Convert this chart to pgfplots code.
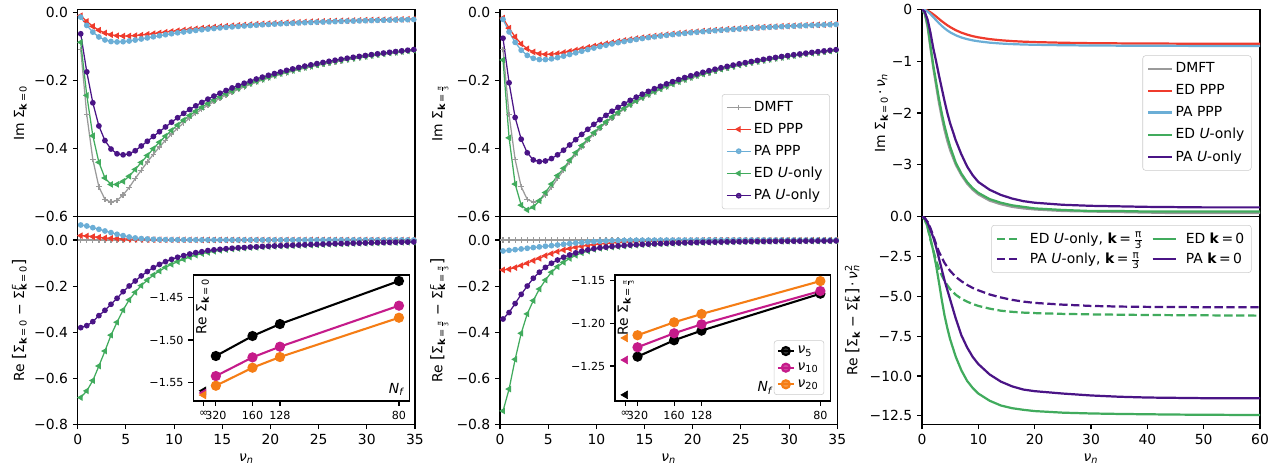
\documentclass[border=0pt]{standalone}
\usepackage{fontspec}
\setmainfont{DejaVu Sans}
\usepackage{pgfplots}
\usepackage{pgfplotstable}
\pgfplotsset{compat=1.18}

\definecolor{cgray}{HTML}{9A9A9A}
\definecolor{cred}{HTML}{EF3B2C}
\definecolor{cblue}{HTML}{6BAED6}
\definecolor{cgreen}{HTML}{41AB5D}
\definecolor{cpurple}{HTML}{4A1486}
\definecolor{cmag}{HTML}{C51B8A}
\definecolor{corange}{HTML}{F57D15}

\newcommand{\kk}{\textbf{k}}
\newcommand{\sbs}[1]{\textsubscript{#1}}
\newcommand{\spsb}[2]{\makebox[0pt][l]{\textsuperscript{#1}}\textsubscript{#2}}
\newcommand{\nun}{\textit{ν}\textsubscript{\textit{n}}}
\newcommand{\fs}[1]{\fontsize{#1}{#1}\selectfont}
\newcommand{\pifr}[1]{$\frac{\hbox{\fs{#1}π}}{\hbox{\fs{#1}3}}$}
\newcommand{\lb}{{\fs{11.5}[}}
\newcommand{\rb}{{\fs{11.5}]}}

\pgfplotsset{
  base/.style={scale only axis, anchor=north west,
    axis line style={line width=0.8pt, black},
    tick align=outside, tick pos=left, major tick length=3.5pt,
    tick style={line width=0.8pt, black},
    tick label style={font=\fs{10}},
    label style={font=\fs{10}},
  },
  ylab/.style={ylabel style={at={(axis description cs:#1,0.5)}, anchor=south, inner sep=0pt}},
  dmft/.style={cgray, line width=0.9pt, mark=+, mark size=2pt, mark options={line width=0.9pt}},
  edppp/.style={cred, line width=0.9pt, mark=triangle*, mark size=1.9pt, mark options={rotate=90}},
  pappp/.style={cblue, line width=0.9pt, mark=*, mark size=1.6pt},
  edu/.style={cgreen, line width=0.9pt, mark=triangle*, mark size=1.9pt, mark options={rotate=90}},
  pau/.style={cpurple, line width=0.9pt, mark=*, mark size=1.6pt},
  mylegend/.style={legend style={draw=black!20, rounded corners=2pt, fill=white, fill opacity=0.8, text opacity=1, font=\fs{10}, row sep=3pt, inner xsep=3pt, inner ysep=3pt}, legend cell align=left},
  inset/.style={base, width=155.5pt, height=90.72pt, xmin=-0.053, xmax=1.053,
    xtick={0,0.0625,0.25,0.390625,1}, xticklabels={∞,320,160,128,80},
    tick label style={font=\fs{8}}, axis background/.style={fill=white}, clip=false},
  iline/.style={line width=1.5pt, mark=*, mark size=2.9pt},
  itri/.style={mark=triangle*, mark size=3.2pt, mark options={rotate=90}, only marks, forget plot},
}

\pgfplotstableread{
nu dm ed pa eu pu
0.314 -0.108 -0.0088 -0.0130 -0.087 -0.062
0.942 -0.300 -0.0256 -0.0373 -0.243 -0.174
1.571 -0.432 -0.0401 -0.0571 -0.362 -0.265
2.199 -0.512 -0.0514 -0.0713 -0.440 -0.333
2.827 -0.549 -0.0596 -0.0801 -0.486 -0.376
3.456 -0.557 -0.0648 -0.0846 -0.505 -0.401
4.084 -0.552 -0.0676 -0.0859 -0.505 -0.415
4.712 -0.536 -0.0686 -0.0852 -0.496 -0.418
5.341 -0.514 -0.0684 -0.0832 -0.481 -0.415
5.969 -0.4878 -0.0673 -0.0804 -0.461 -0.406
6.597 -0.4632 -0.0657 -0.0773 -0.4404 -0.392
7.226 -0.4391 -0.0637 -0.0741 -0.4199 -0.378
7.854 -0.4163 -0.0616 -0.0708 -0.3999 -0.364
8.482 -0.3949 -0.0594 -0.0677 -0.3809 -0.350
9.111 -0.3751 -0.0572 -0.0646 -0.3629 -0.336
9.739 -0.3567 -0.0550 -0.0618 -0.3461 -0.322
10.367 -0.3395 -0.0529 -0.0591 -0.3303 -0.309
10.996 -0.3240 -0.0509 -0.0566 -0.3158 -0.296
11.624 -0.3095 -0.0490 -0.0542 -0.3022 -0.2847
12.252 -0.2962 -0.0472 -0.0520 -0.2896 -0.2739
12.881 -0.2838 -0.0455 -0.0500 -0.2779 -0.2638
13.509 -0.2723 -0.0439 -0.0481 -0.2669 -0.2542
14.137 -0.2616 -0.0423 -0.0463 -0.2567 -0.2452
14.765 -0.2518 -0.0409 -0.0446 -0.2472 -0.2368
15.394 -0.2425 -0.0395 -0.0430 -0.2383 -0.2288
16.022 -0.2339 -0.0383 -0.0416 -0.2301 -0.2212
16.650 -0.2259 -0.0371 -0.0402 -0.2223 -0.2142
17.279 -0.2183 -0.0359 -0.0389 -0.2150 -0.2074
17.907 -0.2112 -0.0348 -0.0376 -0.2081 -0.2011
18.535 -0.2046 -0.0338 -0.0365 -0.2016 -0.1951
19.164 -0.1983 -0.0328 -0.0354 -0.1956 -0.1895
19.792 -0.1924 -0.0319 -0.0344 -0.1898 -0.1841
20.420 -0.1869 -0.0310 -0.0334 -0.1844 -0.1790
21.049 -0.1816 -0.0302 -0.0325 -0.1792 -0.1742
21.677 -0.1766 -0.0294 -0.0316 -0.1744 -0.1696
22.305 -0.1719 -0.0287 -0.0308 -0.1698 -0.1653
22.934 -0.1674 -0.0280 -0.0300 -0.1654 -0.1611
23.562 -0.1631 -0.0273 -0.0292 -0.1612 -0.1571
24.190 -0.1591 -0.0266 -0.0285 -0.1572 -0.1534
24.819 -0.1552 -0.0260 -0.0278 -0.1534 -0.1497
25.447 -0.1515 -0.0254 -0.0272 -0.1498 -0.1463
26.075 -0.1480 -0.0248 -0.0266 -0.1464 -0.1430
26.704 -0.1446 -0.0243 -0.0260 -0.1431 -0.1398
27.332 -0.1414 -0.0238 -0.0254 -0.1399 -0.1368
27.960 -0.1383 -0.0233 -0.0248 -0.1369 -0.1339
28.588 -0.1354 -0.0228 -0.0243 -0.1340 -0.1311
29.217 -0.1326 -0.0223 -0.0238 -0.1312 -0.1285
29.845 -0.1299 -0.0219 -0.0233 -0.1285 -0.1259
30.473 -0.1273 -0.0214 -0.0229 -0.1260 -0.1234
31.102 -0.1248 -0.0210 -0.0224 -0.1235 -0.1210
31.730 -0.1223 -0.0206 -0.0220 -0.1211 -0.1187
32.358 -0.1200 -0.0202 -0.0216 -0.1188 -0.1165
32.987 -0.1178 -0.0199 -0.0212 -0.1166 -0.1144
33.615 -0.1156 -0.0195 -0.0208 -0.1145 -0.1123
34.243 -0.1136 -0.0192 -0.0204 -0.1125 -0.1104
34.872 -0.1115 -0.0188 -0.0201 -0.1105 -0.1084
}\tabTL

\pgfplotstableread{
nu ed pa eu pu
0.314 -0.0156 -0.0195 -0.139 -0.075
0.942 -0.0454 -0.0564 -0.368 -0.206
1.571 -0.0712 -0.0872 -0.504 -0.308
2.199 -0.0915 -0.1102 -0.566 -0.372
2.827 -0.1060 -0.1255 -0.580 -0.412
3.456 -0.1154 -0.1341 -0.572 -0.433
4.084 -0.1205 -0.1377 -0.553 -0.438
4.712 -0.1224 -0.1378 -0.529 -0.436
5.341 -0.1220 -0.1357 -0.504 -0.429
5.969 -0.1201 -0.1321 -0.479 -0.418
6.597 -0.1172 -0.1277 -0.4577 -0.4043
7.226 -0.1138 -0.1229 -0.4341 -0.3890
7.854 -0.1100 -0.1180 -0.4118 -0.3734
8.482 -0.1061 -0.1132 -0.3908 -0.3579
9.111 -0.1021 -0.1085 -0.3712 -0.3429
9.739 -0.0983 -0.1039 -0.3531 -0.3284
10.367 -0.0946 -0.0996 -0.3364 -0.3147
10.996 -0.0911 -0.0956 -0.3210 -0.3019
11.624 -0.0877 -0.0917 -0.3067 -0.2898
12.252 -0.0844 -0.0881 -0.2935 -0.2785
12.881 -0.0814 -0.0847 -0.2813 -0.2678
13.509 -0.0785 -0.0816 -0.2699 -0.2577
14.137 -0.0757 -0.0786 -0.2593 -0.2483
14.765 -0.0732 -0.0758 -0.2496 -0.2396
15.394 -0.0708 -0.0732 -0.2404 -0.2313
16.022 -0.0685 -0.0708 -0.2320 -0.2235
16.650 -0.0663 -0.0685 -0.2240 -0.2162
17.279 -0.0643 -0.0663 -0.2165 -0.2093
17.907 -0.0623 -0.0642 -0.2095 -0.2028
18.535 -0.0605 -0.0623 -0.2029 -0.1966
19.164 -0.0588 -0.0604 -0.1967 -0.1908
19.792 -0.0571 -0.0587 -0.1909 -0.1854
20.420 -0.0556 -0.0571 -0.1853 -0.1802
21.049 -0.0541 -0.0555 -0.1801 -0.1753
21.677 -0.0527 -0.0540 -0.1752 -0.1706
22.305 -0.0513 -0.0526 -0.1705 -0.1662
22.934 -0.0500 -0.0513 -0.1660 -0.1619
23.562 -0.0488 -0.0500 -0.1618 -0.1579
24.190 -0.0477 -0.0488 -0.1578 -0.1541
24.819 -0.0465 -0.0476 -0.1540 -0.1504
25.447 -0.0455 -0.0465 -0.1503 -0.1469
26.075 -0.0445 -0.0455 -0.1468 -0.1436
26.704 -0.0435 -0.0445 -0.1435 -0.1404
27.332 -0.0425 -0.0435 -0.1403 -0.1373
27.960 -0.0416 -0.0426 -0.1372 -0.1344
28.588 -0.0408 -0.0417 -0.1343 -0.1316
29.217 -0.0400 -0.0408 -0.1315 -0.1289
29.845 -0.0392 -0.0400 -0.1288 -0.1263
30.473 -0.0384 -0.0392 -0.1263 -0.1238
31.102 -0.0376 -0.0384 -0.1238 -0.1214
31.730 -0.0369 -0.0377 -0.1214 -0.1191
32.358 -0.0363 -0.0370 -0.1191 -0.1168
32.987 -0.0356 -0.0363 -0.1169 -0.1147
33.615 -0.0350 -0.0357 -0.1147 -0.1126
34.243 -0.0343 -0.0350 -0.1127 -0.1106
34.872 -0.0337 -0.0344 -0.1107 -0.1087
}\tabTM

\pgfplotstableread{
nu dm ed pa eu pu
0.314 0 0.0188 0.0650 -0.684 -0.3805
0.942 0 0.0174 0.0608 -0.655 -0.3718
1.571 0 0.0145 0.0535 -0.610 -0.3545
2.199 0 0.0116 0.0463 -0.547 -0.3284
2.827 0 0.0087 0.0390 -0.482 -0.3053
3.456 0 0.0072 0.0318 -0.413 -0.2792
4.084 0 0.0058 0.0246 -0.357 -0.2532
4.712 0 0.0043 0.0188 -0.304 -0.2243
5.341 0 0.0032 0.0130 -0.260 -0.1997
5.969 0 0.0025 0.0087 -0.227 -0.1780
6.597 0 0.0020 0.0058 -0.198 -0.1560
7.226 0 0.0016 0.0043 -0.174 -0.1370
7.854 0 0.0013 0.0029 -0.152 -0.1200
8.482 0 0.0011 0.0020 -0.135 -0.1060
9.111 0 0.0009 0.0014 -0.119 -0.0940
9.739 0 0.0008 0.0010 -0.106 -0.0840
10.367 0 0.0007 0.0008 -0.094 -0.0750
10.996 0 0.0006 0.0006 -0.084 -0.0680
11.624 0 0.0005 0.0005 -0.074 -0.0610
12.252 0 0.0004 0.0004 -0.066 -0.0550
12.881 0 0.0004 0.0003 -0.059 -0.0510
13.509 0 0.0003 0.0003 -0.054 -0.0460
14.137 0 0.0003 0.0002 -0.049 -0.0430
14.765 0 0.0002 0.0002 -0.045 -0.0405
15.394 0 0.0002 0.0002 -0.042 -0.0380
16.022 0 0.0002 0.0001 -0.039 -0.0360
16.650 0 0.0001 0.0001 -0.037 -0.0340
17.279 0 0.0001 0.0001 -0.035 -0.0330
17.907 0 0.0001 0.0001 -0.033 -0.0310
18.535 0 0.0001 0.0001 -0.032 -0.0300
19.164 0 0.0001 0.0001 -0.030 -0.0280
19.792 0 0.0001 0.0001 -0.029 -0.0270
20.420 0 0.0001 0.0001 -0.028 -0.0260
21.049 0 0.0001 0.0001 -0.027 -0.0250
21.677 0 0.0001 0.0001 -0.026 -0.0240
22.305 0 0.0001 0.0001 -0.025 -0.0230
22.934 0 0.0001 0.0001 -0.024 -0.0220
23.562 0 0.0001 0.0001 -0.023 -0.0210
24.190 0 0.0001 0.0001 -0.022 -0.0200
24.819 0 0.0001 0.0001 -0.021 -0.0190
25.447 0 0.0001 0.0001 -0.020 -0.0180
26.075 0 0.0001 0.0001 -0.019 -0.0170
26.704 0 0.0001 0.0001 -0.018 -0.0160
27.332 0 0.0001 0.0001 -0.017 -0.0155
27.960 0 0.0001 0.0001 -0.016 -0.0150
28.588 0 0.0001 0.0001 -0.0155 -0.0140
29.217 0 0.0001 0.0001 -0.015 -0.0135
29.845 0 0.0001 0.0001 -0.014 -0.0130
30.473 0 0.0001 0.0001 -0.0135 -0.0120
31.102 0 0.0001 0.0001 -0.013 -0.0115
31.730 0 0.0001 0.0001 -0.012 -0.0110
32.358 0 0.0001 0.0001 -0.0115 -0.0105
32.987 0 0.0001 0.0001 -0.011 -0.0100
33.615 0 0.0001 0.0001 -0.0105 -0.0095
34.243 0 0.0001 0.0001 -0.010 -0.0090
34.872 0 0.0001 0.0001 -0.0095 -0.0085
}\tabBL

\pgfplotstableread{
nu dm ed pa eu pu
0.314 0 -0.130 -0.0477 -0.742 -0.343
0.942 0 -0.127 -0.0449 -0.647 -0.315
1.571 0 -0.120 -0.0420 -0.518 -0.276
2.199 0 -0.111 -0.0390 -0.405 -0.236
2.827 0 -0.101 -0.0360 -0.321 -0.200
3.456 0 -0.0897 -0.0330 -0.263 -0.166
4.084 0 -0.0796 -0.0300 -0.213 -0.140
4.712 0 -0.0680 -0.0270 -0.174 -0.119
5.341 0 -0.0593 -0.0246 -0.140 -0.101
5.969 0 -0.0506 -0.0217 -0.116 -0.087
6.597 0 -0.0434 -0.0188 -0.097 -0.075
7.226 0 -0.0376 -0.0160 -0.080 -0.065
7.854 0 -0.0318 -0.0130 -0.0666 -0.056
8.482 0 -0.0275 -0.0116 -0.056 -0.049
9.111 0 -0.0231 -0.0087 -0.048 -0.043
9.739 0 -0.0203 -0.0072 -0.0405 -0.038
10.367 0 -0.0175 -0.0058 -0.036 -0.034
10.996 0 -0.0150 -0.0043 -0.033 -0.031
11.624 0 -0.0130 -0.0032 -0.031 -0.028
12.252 0 -0.0110 -0.0025 -0.0286 -0.026
12.881 0 -0.0095 -0.0020 -0.0264 -0.024
13.509 0 -0.0082 -0.0016 -0.0242 -0.022
14.137 0 -0.0071 -0.0013 -0.0226 -0.0205
14.765 0 -0.0062 -0.0011 -0.0209 -0.0190
15.394 0 -0.0054 -0.0010 -0.0196 -0.0178
16.022 0 -0.0048 -0.0009 -0.0183 -0.0166
16.650 0 -0.0043 -0.0008 -0.0171 -0.0155
17.279 0 -0.0039 -0.0007 -0.0160 -0.0145
17.907 0 -0.0035 -0.0007 -0.0150 -0.0136
18.535 0 -0.0032 -0.0006 -0.0141 -0.0128
19.164 0 -0.0029 -0.0006 -0.0132 -0.0120
19.792 0 -0.0027 -0.0005 -0.0124 -0.0113
20.420 0 -0.0025 -0.0005 -0.0118 -0.0107
21.049 0 -0.0023 -0.0005 -0.0111 -0.0101
21.677 0 -0.0021 -0.0004 -0.0106 -0.0096
22.305 0 -0.0020 -0.0004 -0.0100 -0.0091
22.934 0 -0.0019 -0.0004 -0.0095 -0.0086
23.562 0 -0.0018 -0.0004 -0.0090 -0.0082
24.190 0 -0.0017 -0.0004 -0.0086 -0.0078
24.819 0 -0.0016 -0.0003 -0.0081 -0.0074
25.447 0 -0.0015 -0.0003 -0.0078 -0.0071
26.075 0 -0.0014 -0.0003 -0.0075 -0.0068
26.704 0 -0.0014 -0.0003 -0.0072 -0.0065
27.332 0 -0.0013 -0.0003 -0.0068 -0.0062
27.960 0 -0.0013 -0.0003 -0.0066 -0.0060
28.588 0 -0.0012 -0.0003 -0.0063 -0.0057
29.217 0 -0.0012 -0.0003 -0.0061 -0.0055
29.845 0 -0.0011 -0.0003 -0.0058 -0.0053
30.473 0 -0.0011 -0.0003 -0.0056 -0.0051
31.102 0 -0.0010 -0.0003 -0.0054 -0.0049
31.730 0 -0.0010 -0.0003 -0.0052 -0.0047
32.358 0 -0.0009 -0.0003 -0.0050 -0.0045
32.987 0 -0.0009 -0.0003 -0.0048 -0.0044
33.615 0 -0.0009 -0.0003 -0.0046 -0.0042
34.243 0 -0.0008 -0.0003 -0.0045 -0.0041
34.872 0 -0.0008 -0.0003 -0.0044 -0.0040
}\tabBM

\pgfplotstableread{
nu dm ed pa eu pu
0 0 0 0 0 0
0.5 -0.09 -0.007 -0.0116 -0.08 -0.05
1 -0.35 -0.027 -0.0444 -0.30 -0.20
1.5 -0.75 -0.058 -0.0926 -0.70 -0.45
2 -1.13 -0.096 -0.149 -1.08 -0.75
2.5 -1.47 -0.139 -0.209 -1.40 -1.00
3 -1.80 -0.184 -0.266 -1.72 -1.27
3.5 -2.08 -0.228 -0.319 -2.00 -1.52
4 -2.33 -0.269 -0.366 -2.25 -1.77
4.5 -2.54 -0.308 -0.408 -2.46 -2.00
5 -2.72 -0.343 -0.444 -2.65 -2.20
6 -3.00 -0.403 -0.501 -2.96 -2.53
7 -3.20 -0.451 -0.544 -3.17 -2.80
8 -3.36 -0.488 -0.575 -3.33 -3.03
9 -3.48 -0.518 -0.599 -3.45 -3.20
10 -3.57 -0.541 -0.617 -3.54 -3.33
12 -3.69 -0.575 -0.643 -3.66 -3.48
14 -3.76 -0.597 -0.660 -3.73 -3.58
16 -3.81 -0.613 -0.671 -3.78 -3.65
18 -3.84 -0.624 -0.679 -3.81 -3.70
20 -3.86 -0.632 -0.684 -3.84 -3.73
25 -3.89 -0.645 -0.693 -3.87 -3.77
30 -3.90 -0.653 -0.698 -3.89 -3.79
35 -3.91 -0.657 -0.701 -3.89 -3.80
40 -3.92 -0.660 -0.703 -3.90 -3.81
45 -3.93 -0.662 -0.705 -3.90 -3.815
50 -3.93 -0.664 -0.706 -3.90 -3.82
55 -3.93 -0.665 -0.707 -3.90 -3.82
60 -3.93 -0.666 -0.707 -3.90 -3.82
}\tabTR

\pgfplotstableread{
nu gd gs pd ps
0 0 0 0 0
0.5 -0.18 -0.17 -0.085 -0.095
1 -0.70 -0.66 -0.33 -0.38
1.5 -1.45 -1.38 -0.72 -0.83
2 -2.10 -2.15 -1.20 -1.30
2.5 -2.75 -3.05 -1.72 -1.90
3 -3.25 -4.10 -2.20 -2.60
3.5 -3.68 -5.20 -2.55 -3.30
4 -4.03 -6.20 -2.90 -4.00
4.5 -4.30 -7.00 -3.16 -4.60
5 -4.55 -7.70 -3.40 -5.20
6 -4.90 -8.80 -3.78 -6.40
7 -5.15 -9.65 -4.05 -7.45
8 -5.33 -10.30 -4.28 -8.20
9 -5.48 -10.75 -4.47 -8.80
10 -5.60 -11.10 -4.62 -9.25
12 -5.77 -11.55 -4.88 -9.90
14 -5.90 -11.85 -5.07 -10.35
16 -5.97 -12.02 -5.22 -10.65
18 -6.02 -12.12 -5.33 -10.85
20 -6.05 -12.20 -5.41 -10.95
25 -6.10 -12.30 -5.52 -11.10
30 -6.13 -12.35 -5.60 -11.22
35 -6.15 -12.38 -5.64 -11.30
40 -6.17 -12.40 -5.66 -11.35
45 -6.18 -12.42 -5.67 -11.37
50 -6.19 -12.43 -5.68 -11.39
55 -6.20 -12.44 -5.69 -11.40
60 -6.21 -12.45 -5.69 -11.40
}\tabBR

\pgfplotstableread{
x a b c
0.0625 -1.5187 -1.5422 -1.5535
0.25 -1.4953 -1.5203 -1.5324
0.390625 -1.4813 -1.5078 -1.5199
1 -1.4309 -1.4598 -1.4739
}\tabIA
\pgfplotstableread{
x a b c
0 -1.5594 -1.5620 -1.5644
}\tabIAi
\pgfplotstableread{
x a b c
0.0625 -1.2390 -1.2280 -1.2139
0.25 -1.2198 -1.2116 -1.1987
0.390625 -1.2085 -1.2011 -1.1890
1 -1.1652 -1.1621 -1.1504
}\tabIB
\pgfplotstableread{
x a b c
0 -1.2838 -1.2429 -1.2171
}\tabIBi

\begin{document}
\begin{tikzpicture}
\useasboundingbox (0,0) rectangle (920.88pt,-338.4pt);

% ---------- left top
\begin{axis}[base, ylab=-0.150, at={(55.94pt,-6.70pt)}, width=242.86pt, height=149.33pt,
  xmin=0, xmax=35, ymin=-0.6, ymax=0.010, xtick=\empty,
  ytick={-0.6,-0.4,-0.2,0}, yticklabels={−0.6,−0.4,−0.2,0.0},
  ylabel={Im Σ\sbs{\kk\,=\,0}}]
\addplot[dmft] table[x=nu,y=dm]{\tabTL};
\addplot[edppp] table[x=nu,y=ed]{\tabTL};
\addplot[pappp] table[x=nu,y=pa]{\tabTL};
\addplot[edu] table[x=nu,y=eu]{\tabTL};
\addplot[pau] table[x=nu,y=pu]{\tabTL};
\end{axis}

% ---------- left bottom
\begin{axis}[base, ylab=-0.150, at={(55.94pt,-156.02pt)}, width=242.86pt, height=149.47pt,
  xmin=0, xmax=35, ymin=-0.8, ymax=0.101,
  xtick={0,5,10,15,20,25,30,35}, xticklabels={0,5,10,15,20,25,30,35},
  ytick={-0.8,-0.6,-0.4,-0.2,0}, yticklabels={−0.8,−0.6,−0.4,−0.2,0.0},
  xlabel={\nun},
  ylabel={Re \lb Σ\sbs{\kk\,=\,0} − Σ\spsb{\textit{F}}{\kk\,=\,0}\rb}]
\addplot[dmft] table[x=nu,y=dm]{\tabBL};
\addplot[edppp] table[x=nu,y=ed]{\tabBL};
\addplot[pappp] table[x=nu,y=pa]{\tabBL};
\addplot[edu] table[x=nu,y=eu]{\tabBL};
\addplot[pau] table[x=nu,y=pu]{\tabBL};
\end{axis}

% ---------- inset 1
\begin{axis}[inset, at={(139.18pt,-198pt)}, width=155.52pt,
  ymin=-1.5714, ymax=-1.4239,
  ytick={-1.55,-1.5,-1.45}, yticklabels={−1.55,−1.50,−1.45}]
\addplot[iline, black] table[x=x,y=a]{\tabIA};
\addplot[iline, cmag] table[x=x,y=b]{\tabIA};
\addplot[iline, corange] table[x=x,y=c]{\tabIA};
\addplot[itri, black] table[x=x,y=a]{\tabIAi};
\addplot[itri, cmag] table[x=x,y=b]{\tabIAi};
\addplot[itri, corange] table[x=x,y=c]{\tabIAi};
\node[rotate=90, anchor=north east, font=\fs{10}, inner sep=0pt] at (rel axis cs:0.012,0.975) {Re Σ\sbs{\kk\,=\,0}};
\node[anchor=south east, font=\fs{10}, inner sep=0pt] at (rel axis cs:0.98,0.04) {\textit{N}\sbs{\textit{f}}};
\end{axis}

% ---------- middle top
\begin{axis}[base, ylab=-0.152, mylegend, at={(360pt,-6.70pt)}, width=242.86pt, height=149.33pt,
  xmin=0, xmax=35, ymin=-0.6, ymax=0.010, xtick=\empty,
  ytick={-0.6,-0.4,-0.2,0}, yticklabels={−0.6,−0.4,−0.2,0.0},
  ylabel={Im Σ\sbs{\kk\,=\,\pifr{4.5}}},
  legend style={at={(0.978,0.036)}, anchor=south east}]
\addplot[dmft] table[x=nu,y=dm]{\tabTL};
\addplot[edppp] table[x=nu,y=ed]{\tabTM};
\addplot[pappp] table[x=nu,y=pa]{\tabTM};
\addplot[edu] table[x=nu,y=eu]{\tabTM};
\addplot[pau] table[x=nu,y=pu]{\tabTM};
\legend{DMFT, ED PPP, PA PPP, ED \textit{U}-only, PA \textit{U}-only}
\end{axis}

% ---------- middle bottom
\begin{axis}[base, ylab=-0.152, at={(360pt,-156.02pt)}, width=242.86pt, height=149.47pt,
  xmin=0, xmax=35, ymin=-0.8, ymax=0.101,
  xtick={0,5,10,15,20,25,30,35}, xticklabels={0,5,10,15,20,25,30,35},
  ytick={-0.8,-0.6,-0.4,-0.2,0}, yticklabels={−0.8,−0.6,−0.4,−0.2,0.0},
  xlabel={\nun},
  ylabel={Re \lb Σ\sbs{\kk\,=\,\pifr{4.5}} − Σ\spsb{\textit{F}}{\kk\,=\,\pifr{4.5}}\rb}]
\addplot[dmft] table[x=nu,y=dm]{\tabBM};
\addplot[edppp] table[x=nu,y=ed]{\tabBM};
\addplot[pappp] table[x=nu,y=pa]{\tabBM};
\addplot[edu] table[x=nu,y=eu]{\tabBM};
\addplot[pau] table[x=nu,y=pu]{\tabBM};
\end{axis}

% ---------- inset 2
\begin{axis}[inset, mylegend, at={(442.8pt,-198pt)}, width=155.3pt,
  ymin=-1.291, ymax=-1.1433,
  ytick={-1.25,-1.2,-1.15}, yticklabels={−1.25,−1.20,−1.15},
  legend style={at={(0.97,0.048)}, anchor=south east, font=\fs{10}, row sep=1pt, inner xsep=2pt, inner ysep=2pt},
  legend image code/.code={\draw[mark repeat=2,mark phase=2] plot coordinates {(0cm,0cm) (0.2cm,0cm) (0.4cm,0cm)};}]
\addplot[iline, black] table[x=x,y=a]{\tabIB};
\addplot[iline, cmag] table[x=x,y=b]{\tabIB};
\addplot[iline, corange] table[x=x,y=c]{\tabIB};
\addplot[itri, black] table[x=x,y=a]{\tabIBi};
\addplot[itri, cmag] table[x=x,y=b]{\tabIBi};
\addplot[itri, corange] table[x=x,y=c]{\tabIBi};
\legend{\textit{ν}\sbs{5}, \textit{ν}\sbs{10}, \textit{ν}\sbs{20}}
\node[rotate=90, anchor=north east, font=\fs{10}, inner sep=0pt] at (rel axis cs:0.012,0.975) {Re Σ\sbs{\kk\,=\,\pifr{4.5}}};
\node[anchor=south east, font=\fs{10}, inner sep=0pt] at (rel axis cs:0.735,0.05) {\textit{N}\sbs{\textit{f}}};
\end{axis}

% ---------- right top
\begin{axis}[base, ylab=-0.100, mylegend, at={(663.84pt,-6.70pt)}, width=243.36pt, height=149.33pt,
  xmin=0, xmax=60, ymin=-4, ymax=0, xtick=\empty,
  ytick={-3,-2,-1,0}, yticklabels={−3,−2,−1,0},
  ylabel={Im Σ\sbs{\kk\,=\,0}\,·\,\nun},
  legend style={at={(0.975,0.5)}, anchor=east}]
\addplot[cgray, line width=1.6pt] table[x=nu,y=dm]{\tabTR};
\addplot[cred, line width=1.6pt] table[x=nu,y=ed]{\tabTR};
\addplot[cblue, line width=1.6pt] table[x=nu,y=pa]{\tabTR};
\addplot[cgreen, line width=1.6pt] table[x=nu,y=eu]{\tabTR};
\addplot[cpurple, line width=1.6pt] table[x=nu,y=pu]{\tabTR};
\legend{DMFT, ED PPP, PA PPP, ED \textit{U}-only, PA \textit{U}-only}
\end{axis}

% ---------- right bottom
\begin{axis}[base, ylab=-0.183, mylegend, at={(663.84pt,-156.02pt)}, width=243.36pt, height=149.47pt,
  xmin=0, xmax=60, ymin=-13.03, ymax=0,
  xtick={0,10,20,30,40,50,60}, xticklabels={0,10,20,30,40,50,60},
  ytick={-12.5,-10,-7.5,-5,-2.5,0}, yticklabels={−12.5,−10.0,−7.5,−5.0,−2.5,0.0},
  xlabel={\nun},
  ylabel={Re \lb Σ\sbs{\kk} − Σ\spsb{\textit{F}}{\kk}\rb\,·\,\textit{ν}\spsb{2}{\textit{n}}},
  legend columns=2,
  legend style={at={(0.975,0.96)}, anchor=north east, /tikz/column sep=4pt, row sep=1pt}]
\addplot[cgreen, line width=1.6pt, dash pattern=on 6pt off 2.6pt] table[x=nu,y=gd]{\tabBR};
\addplot[cgreen, line width=1.6pt] table[x=nu,y=gs]{\tabBR};
\addplot[cpurple, line width=1.6pt, dash pattern=on 6pt off 2.6pt] table[x=nu,y=pd]{\tabBR};
\addplot[cpurple, line width=1.6pt] table[x=nu,y=ps]{\tabBR};
\legend{ED \textit{U}-only{,} \kk\,=\,\pifr{7.5}, ED \kk\,=\,0, PA \textit{U}-only{,} \kk\,=\,\pifr{7.5}, PA \kk\,=\,0}
\end{axis}

\end{tikzpicture}
\end{document}
